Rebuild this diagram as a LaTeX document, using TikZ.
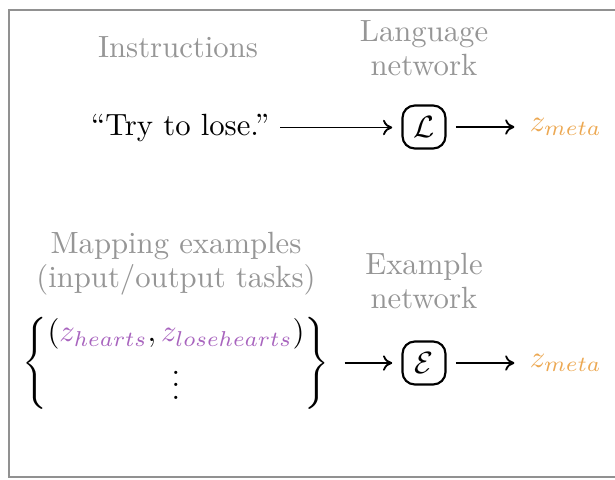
\documentclass[tikz,border=0pt]{standalone}
\usepackage{amsmath}
\usetikzlibrary{arrows.meta}
\definecolor{labelgray}{RGB}{150,150,150}
\definecolor{framegray}{RGB}{145,145,145}
\definecolor{metaorange}{RGB}{236,168,82}
\definecolor{taskpurple}{RGB}{168,100,190}
\begin{document}
\begin{tikzpicture}[x=0.3257pt,y=-0.3257pt,
  caption/.style={text=labelgray, align=center},
  netbox/.style={draw, line width=0.7pt, rounded corners=4pt,
    minimum width=14pt, minimum height=14pt, inner sep=0pt},
  flow/.style={-{To[length=3pt,width=5pt]}, line width=0.6pt},
  latent/.style={anchor=west, text=metaorange}]
\useasboundingbox (0,0) rectangle (615,479);
% open frame (its right side lies beyond the page)
\draw[framegray, line width=0.8pt] (615,10) -- (9,10) -- (9,477) -- (615,477);

% language route
\node[caption, anchor=base] (instr) at (178,57) {Instructions};
\node[caption] (langlbl) at (424,48) {Language\\[-1pt]network};
\node[anchor=base] (cmd) at (180,135) {``Try to lose.''};
\node[netbox] (lnet) at (424,127) {$\mathcal{L}$};
\node[latent] (zm1) at (519,127) {$z_{meta}$};
\draw[flow, shorten >=3pt] (cmd.east) -- (cmd.east -| lnet.west);
\draw[flow, shorten <=3pt, shorten >=1.5pt] (lnet.east) -- (zm1.west);

% example route
\node[caption] (maplbl) at (176,264) {Mapping examples\\[-1pt](input/output tasks)};
\node[caption] (exlbl) at (424,281) {Example\\[-1pt]network};
\node (pairs) at (176,363) {$\left\{\begin{matrix}
  (\textcolor{taskpurple}{z_{hearts}}, \textcolor{taskpurple}{z_{losehearts}})\\
  \vdots
  \end{matrix}\right\}$};
\node[netbox] (enet) at (424,363) {$\mathcal{E}$};
\node[latent] (zm2) at (519,363) {$z_{meta}$};
\draw[flow, shorten <=1.5pt, shorten >=3pt] (pairs.east) -- (enet.west);
\draw[flow, shorten <=3pt, shorten >=1.5pt] (enet.east) -- (zm2.west);
\end{tikzpicture}
\end{document}
